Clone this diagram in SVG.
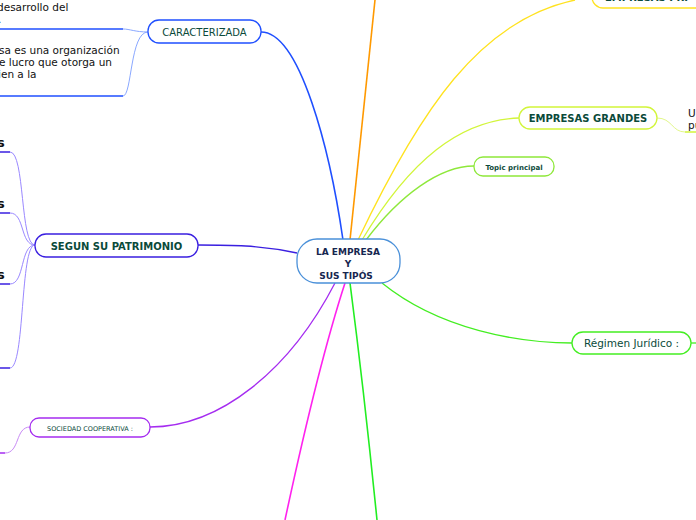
<svg xmlns="http://www.w3.org/2000/svg" width="696" height="520" viewBox="0 0 696 520">
<style>
.node{fill:#fff;stroke-width:1.3}
.t{font-family:"DejaVu Sans",Verdana,sans-serif;fill:#0b4a3a}
.b{font-weight:bold}
.leaf{font-family:"DejaVu Sans",Verdana,sans-serif;fill:#111;font-size:10.5px}
.c{fill:none}
</style>
<rect width="696" height="520" fill="#fff"/>
<g id="connectors">
<path class="c" d="M350,240 C358,160 366,80 375,0" stroke="#ff9900" stroke-width="1.6"/>
<path class="c" d="M358,240 C420,110 480,20 575,0" stroke="#ffe21f" stroke-width="1.3"/>
<path class="c" d="M362,240 C410,160 460,120 519,118" stroke="#d2f53a" stroke-width="1.3"/>
<path class="c" d="M366,240 C400,195 440,166 474,166" stroke="#8ee83a" stroke-width="1.3"/>
<path class="c" d="M343,240 C330,150 300,32 261,32" stroke="#1f4fff" stroke-width="1.6"/>
<path class="c" d="M297,253 C260,245 230,245 198,245" stroke="#3a1fe0" stroke-width="1.3"/>
<path class="c" d="M335,283 C290,370 220,427 150,427" stroke="#a52cf0" stroke-width="1.3"/>
<path class="c" d="M345,283 C320,360 300,450 285,520" stroke="#ff22ee" stroke-width="1.6"/>
<path class="c" d="M350,283 C360,360 370,450 377,520" stroke="#22ee22" stroke-width="1.6"/>
<path class="c" d="M382,283 C440,330 520,343 572,343" stroke="#44ee22" stroke-width="1.3"/>
<path class="c" d="M691,343 L696,343" stroke="#44ee22" stroke-width="1.3"/>
<path class="c" d="M148,32 C135,32 130,29 123,29" stroke="#8aa8ff" stroke-width="1"/>
<path class="c" d="M148,32 C130,32 132,96 123,96" stroke="#8aa8ff" stroke-width="1"/>
<path class="c" d="M35,245 C20,245 25,152 10,152" stroke="#9a88ff" stroke-width="1"/>
<path class="c" d="M35,245 C20,245 25,213 10,213" stroke="#9a88ff" stroke-width="1"/>
<path class="c" d="M35,245 C20,245 25,284 10,284" stroke="#9a88ff" stroke-width="1"/>
<path class="c" d="M35,245 C20,245 25,368 10,368" stroke="#9a88ff" stroke-width="1"/>
<path class="c" d="M30,427 C15,427 20,453 5,453" stroke="#c88af5" stroke-width="1"/>
<path class="c" d="M657,118 C672,118 672,132 685,132" stroke="#e2f78a" stroke-width="1"/>
</g>
<g id="leaf-caracterizada-1">
<text class="leaf" x="-3" y="11">desarrollo del</text>
<text class="leaf" x="-2" y="23">.</text>
<line x1="0" y1="29" x2="123" y2="29" stroke="#1f4fff" stroke-width="1.5"/>
</g>
<g id="leaf-caracterizada-2">
<text class="leaf" x="-1" y="54">sa es una organización</text>
<text class="leaf" x="-1" y="66">e lucro que otorga un</text>
<text class="leaf" x="-2" y="78">ien a la</text>
<line x1="0" y1="96" x2="123" y2="96" stroke="#1f4fff" stroke-width="1.5"/>
</g>
<g id="leaf-patrimonio-1">
<text class="leaf b" x="-3" y="147" font-size="13" style="font-size:13px">s</text>
<line x1="0" y1="152" x2="10" y2="152" stroke="#3a1fe0" stroke-width="1.5"/>
</g>
<g id="leaf-patrimonio-2">
<text class="leaf b" x="-3" y="208" style="font-size:13px">s</text>
<line x1="0" y1="213" x2="10" y2="213" stroke="#3a1fe0" stroke-width="1.5"/>
</g>
<g id="leaf-patrimonio-3">
<text class="leaf b" x="-3" y="279" style="font-size:13px">s</text>
<line x1="0" y1="284" x2="10" y2="284" stroke="#3a1fe0" stroke-width="1.5"/>
</g>
<g id="leaf-patrimonio-4">
<line x1="0" y1="368" x2="10" y2="368" stroke="#3a1fe0" stroke-width="1.5"/>
</g>
<g id="leaf-cooperativa">
<line x1="0" y1="453" x2="5" y2="453" stroke="#a52cf0" stroke-width="1.5"/>
</g>
<g id="leaf-grandes">
<text class="leaf" x="688" y="117">U</text>
<text class="leaf" x="688" y="129">pu</text>
<line x1="685" y1="132" x2="696" y2="132" stroke="#d2f53a" stroke-width="1.5"/>
</g>
<g id="central">
<rect class="node" x="297" y="239" width="103" height="44" rx="20" stroke="#4a90d9"/>
<text class="t b" x="348" y="255" text-anchor="middle" style="font-size:9px;fill:#16264f">LA EMPRESA</text>
<text class="t b" x="348" y="267" text-anchor="middle" style="font-size:9px;fill:#16264f">Y</text>
<text class="t b" x="346" y="279" text-anchor="middle" style="font-size:9px;fill:#16264f">SUS TIPÓS</text>
</g>
<g id="caracterizada">
<rect class="node" x="148" y="20" width="113" height="23" rx="11" stroke="#1f4fff"/>
<text class="t" x="204.5" y="36" text-anchor="middle" style="font-size:10px">CARACTERIZADA</text>
</g>
<g id="patrimonio">
<rect class="node" x="35" y="234" width="163" height="23" rx="11" stroke="#3a1fe0"/>
<text class="t b" x="116.5" y="249.5" text-anchor="middle" style="font-size:10px">SEGUN SU PATRIMONIO</text>
</g>
<g id="cooperativa">
<rect class="node" x="30" y="418" width="120" height="19" rx="9" stroke="#a52cf0"/>
<text class="t" x="90" y="430.5" text-anchor="middle" style="font-size:6.5px">SOCIEDAD COOPERATIVA :</text>
</g>
<g id="pri">
<rect class="node" x="592" y="-15" width="120" height="23" rx="11" stroke="#ffe21f"/>
<text class="t b" x="605" y="1" style="font-size:10px">EMPRESAS PRI</text>
</g>
<g id="grandes">
<rect class="node" x="519" y="107" width="138" height="22" rx="11" stroke="#d2f53a"/>
<text class="t b" x="588" y="122" text-anchor="middle" style="font-size:10px">EMPRESAS GRANDES</text>
</g>
<g id="topic">
<rect class="node" x="474" y="157" width="80" height="19" rx="9" stroke="#8ee83a"/>
<text class="t b" x="514" y="169.5" text-anchor="middle" style="font-size:7px">Topic principal</text>
</g>
<g id="regimen">
<rect class="node" x="572" y="332" width="119" height="22" rx="11" stroke="#44ee22"/>
<text class="t" x="631.5" y="347" text-anchor="middle" style="font-size:10.5px">Régimen Jurídico :</text>
</g>
</svg>
